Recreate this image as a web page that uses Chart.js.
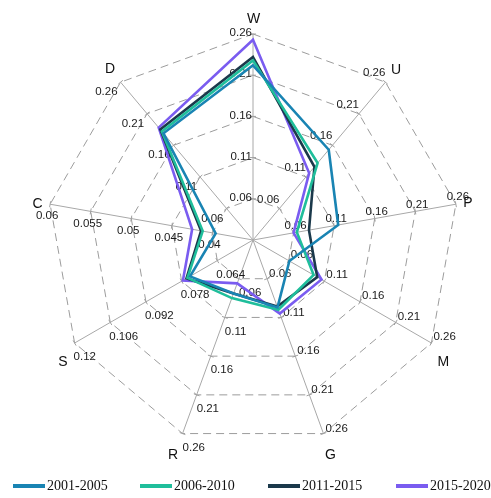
<!DOCTYPE html>
<html>
<head>
<meta charset="utf-8">
<script src="https://cdn.jsdelivr.net/npm/chart.js@4/dist/chart.umd.min.js"></script>
<style>
  html, body { margin: 0; padding: 0; background: #fff; overflow: hidden; }
  #wrap { position: relative; width: 491px; height: 498px; }
</style>
</head>
<body>
<div id="wrap"><canvas id="c"></canvas></div>
<script>
// Axes, clockwise from the top
const axes = ['W', 'U', 'P', 'M', 'G', 'R', 'S', 'C', 'D'];

// Each axis carries its own tick values (rings 1..5 from the centre outwards)
const ticksW = ['0.06', '0.11', '0.16', '0.21', '0.26'];
const ticksU = ['0.06', '0.11', '0.16', '0.21', '0.26'];
const ticksP = ['0.06', '0.11', '0.16', '0.21', '0.26'];
const ticksM = ['0.06', '0.11', '0.16', '0.21', '0.26'];
const ticksG = ['0.06', '0.11', '0.16', '0.21', '0.26'];
const ticksR = ['0.06', '0.11', '0.16', '0.21', '0.26'];
const ticksS = ['0.064', '0.078', '0.092', '0.106', '0.12'];
const ticksC = ['0.04', '0.045', '0.05', '0.055', '0.06'];
const ticksD = ['0.06', '0.11', '0.16', '0.21', '0.26'];
const tickLabels = [ticksW, ticksU, ticksP, ticksM, ticksG, ticksR, ticksS, ticksC, ticksD];

// Periods
const periods = ['2001-2005', '2006-2010', '2011-2015', '2015-2020'];

// Values per axis (W, U, P, M, G, R, S, C, D)
const v2001 = [0.222, 0.153, 0.115, 0.061, 0.097, 0.079, 0.0747, 0.0396, 0.179];
const v2006 = [0.228, 0.132, 0.064, 0.095, 0.100, 0.085, 0.0757, 0.0412, 0.182];
const v2011 = [0.232, 0.126, 0.079, 0.100, 0.096, 0.079, 0.0761, 0.0414, 0.185];
const v2015 = [0.253, 0.116, 0.060, 0.106, 0.105, 0.066, 0.0775, 0.0425, 0.188];
const seriesValues = [v2001, v2006, v2011, v2015];

const colors = ['#1984b3', '#1fbe9b', '#1b394b', '#7a5cf0'];

// Every axis is drawn on a shared 0..5 ring scale: ring k holds tick k of that axis,
// the centre sits one step below the first tick.
function axisScale(i) {
  const t = tickLabels[i].map(Number);
  const step = t[1] - t[0];
  return { min: t[0] - step, step };
}
function toRing(v, i) {
  const s = axisScale(i);
  return (v - s.min) / s.step;
}

const tickStyle = {
  align: ['right', 'right', 'center', 'left', 'left', 'left', 'left', 'center', 'right'],
  dx: [-1, 0, 2, 2, 2, 0, -1, -3, -3],
  dy: [-1, -9, -7, -6, -5, 14, 14, 12, 10]
};
const nameStyle = {
  dx: [0.5, 10.6, 12, 12, 7, -9.5, -11.6, -12.6, -10.6],
  dy: [-15, -12, -1, 19, 22, 21.4, 19, 0, -13.4]
};

const axisText = {
  id: 'axisText',
  beforeDatasetsDraw(chart) {
    const s = chart.scales.r;
    const ctx = chart.ctx;
    ctx.save();
    ctx.setLineDash([]);
    axes.forEach((name, i) => {
      const ang = s.getIndexAngle(i) - Math.PI / 2;
      const ux = Math.cos(ang), uy = Math.sin(ang);
      tickLabels[i].forEach((label, k) => {
        const p = s.getPointPosition(i, s.getDistanceFromCenterForValue(k + 1));
        // small tick across the axis
        ctx.strokeStyle = '#a0a0a0';
        ctx.lineWidth = 1;
        ctx.beginPath();
        ctx.moveTo(p.x - uy * 3, p.y + ux * 3);
        ctx.lineTo(p.x + uy * 3, p.y - ux * 3);
        ctx.stroke();
        ctx.fillStyle = '#1a1a1a';
        ctx.font = '11.5px "Liberation Sans", Arial, sans-serif';
        ctx.textAlign = tickStyle.align[i];
        ctx.textBaseline = 'middle';
        ctx.fillText(label, p.x + tickStyle.dx[i], p.y + tickStyle.dy[i]);
      });
      const end = s.getPointPosition(i, s.drawingArea);
      ctx.fillStyle = '#111';
      ctx.font = '14px "Liberation Sans", Arial, sans-serif';
      ctx.textAlign = 'center';
      ctx.textBaseline = 'middle';
      ctx.fillText(name, end.x + nameStyle.dx[i], end.y + nameStyle.dy[i]);
    });
    ctx.restore();
  },
  afterDraw(chart) {
    // legend row along the bottom edge
    const ctx = chart.ctx;
    const xs = [13, 140, 268, 396];
    const y = 486;
    ctx.save();
    chart.data.datasets.forEach((ds, i) => {
      ctx.strokeStyle = ds.borderColor;
      ctx.lineWidth = 4;
      ctx.beginPath();
      ctx.moveTo(xs[i], y);
      ctx.lineTo(xs[i] + 32, y);
      ctx.stroke();
      ctx.fillStyle = '#111';
      ctx.font = '14px "Liberation Serif", "Times New Roman", serif';
      ctx.textAlign = 'left';
      ctx.textBaseline = 'middle';
      ctx.fillText(ds.label, xs[i] + 34, y);
    });
    ctx.restore();
  }
};

new Chart(document.getElementById('c'), {
  type: 'radar',
  data: {
    labels: axes,
    datasets: periods.map((p, j) => ({
      label: p,
      data: seriesValues[j].map((v, i) => toRing(v, i)),
      borderColor: colors[j],
      backgroundColor: 'transparent',
      fill: false,
      borderWidth: 2.6,
      pointRadius: 0,
      tension: 0
    }))
  },
  options: {
    responsive: true,
    maintainAspectRatio: false,
    animation: false,
    layout: { padding: { left: 47, right: 32, top: 34, bottom: 52 } },
    plugins: { legend: { display: false }, tooltip: { enabled: false } },
    scales: {
      r: {
        min: 0,
        max: 5,
        ticks: { display: false, stepSize: 1 },
        pointLabels: { display: false },
        grid: { circular: false, color: '#9c9c9c', lineWidth: 1 },
        border: { dash: [8, 5] },
        angleLines: { color: '#a8a8a8', lineWidth: 1 }
      }
    }
  },
  plugins: [axisText]
});
</script>
</body>
</html>
